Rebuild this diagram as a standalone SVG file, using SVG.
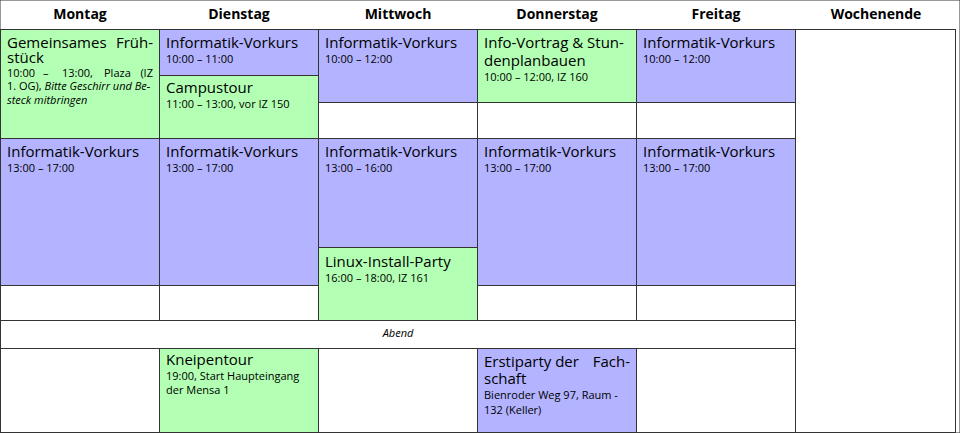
<svg xmlns="http://www.w3.org/2000/svg" width="960" height="433" viewBox="0 0 960 433">
<style>
text{font-family:"Open Sans","DejaVu Sans",sans-serif;fill:#000}
.h{font-size:14px;font-weight:bold;text-anchor:middle}
.t{font-size:15px}
.s{font-size:11px}
.i{font-style:italic}
rect{stroke:#333;stroke-width:1}
.g{fill:#b3ffb3}.b{fill:#b3b3ff}.w{fill:#fff}
</style>
<rect width="960" height="433" fill="#fff" stroke="none"/>
<g id="header">
<text class="h" x="80" y="19">Montag</text>
<text class="h" x="239" y="19">Dienstag</text>
<text class="h" x="398" y="19">Mittwoch</text>
<text class="h" x="557" y="19">Donnerstag</text>
<text class="h" x="716" y="19">Freitag</text>
<text class="h" x="876" y="19">Wochenende</text>
</g>
<g id="grid">
<rect class="w" x="0.5" y="29.5" width="955" height="403"/>
<rect class="w" x="318.5" y="102.5" width="159" height="36"/>
<rect class="w" x="477.5" y="102.5" width="159" height="36"/>
<rect class="w" x="636.5" y="102.5" width="159" height="36"/>
<rect class="w" x="0.5" y="285.5" width="159" height="35"/>
<rect class="w" x="159.5" y="285.5" width="159" height="35"/>
<rect class="w" x="477.5" y="285.5" width="159" height="35"/>
<rect class="w" x="636.5" y="285.5" width="159" height="35"/>
<rect class="w" x="0.5" y="320.5" width="795" height="28"/>
<rect class="w" x="0.5" y="348.5" width="159" height="84"/>
<rect class="w" x="318.5" y="348.5" width="159" height="84"/>
<rect class="w" x="636.5" y="348.5" width="159" height="84"/>
<rect class="w" x="795.5" y="29.5" width="160" height="403"/>
<text class="s i" x="398" y="337" text-anchor="middle">Abend</text>
</g>
<g id="mo1"><rect class="g" x="0.5" y="29.5" width="159" height="109"/>
<text class="t" x="7" y="48">Gemeinsames</text><text class="t" x="153" y="48" text-anchor="end">Früh-</text>
<text class="t" x="7" y="63">stück</text>
<text class="s" x="7" y="77">10:00</text><text class="s" x="43" y="77">–</text><text class="s" x="62" y="77">13:00,</text><text class="s" x="104" y="77">Plaza</text><text class="s" x="153" y="77" text-anchor="end">(IZ</text>
<text class="s" x="7" y="90">1. OG), <tspan class="i">Bitte Geschirr und Be-</tspan></text>
<text class="s i" x="7" y="104">steck mitbringen</text></g>
<g id="mo2"><rect class="b" x="0.5" y="138.5" width="159" height="147"/>
<text class="t" x="7" y="157">Informatik-Vorkurs</text><text class="s" x="7" y="172">13:00 – 17:00</text></g>
<g id="di1"><rect class="b" x="159.5" y="29.5" width="159" height="46"/>
<text class="t" x="166" y="48">Informatik-Vorkurs</text><text class="s" x="166" y="63">10:00 – 11:00</text></g>
<g id="di2"><rect class="g" x="159.5" y="75.5" width="159" height="63"/>
<text class="t" x="166" y="93">Campustour</text><text class="s" x="166" y="108">11:00 – 13:00, vor IZ 150</text></g>
<g id="di3"><rect class="b" x="159.5" y="138.5" width="159" height="147"/>
<text class="t" x="166" y="157">Informatik-Vorkurs</text><text class="s" x="166" y="172">13:00 – 17:00</text></g>
<g id="di4"><rect class="g" x="159.5" y="348.5" width="159" height="84"/>
<text class="t" x="166" y="365">Kneipentour</text><text class="s" x="166" y="380">19:00, Start Haupteingang</text><text class="s" x="166" y="394">der Mensa 1</text></g>
<g id="mi1"><rect class="b" x="318.5" y="29.5" width="159" height="73"/>
<text class="t" x="325" y="48">Informatik-Vorkurs</text><text class="s" x="325" y="63">10:00 – 12:00</text></g>
<g id="mi2"><rect class="b" x="318.5" y="138.5" width="159" height="109"/>
<text class="t" x="325" y="157">Informatik-Vorkurs</text><text class="s" x="325" y="172">13:00 – 16:00</text></g>
<g id="mi3"><rect class="g" x="318.5" y="247.5" width="159" height="73"/>
<text class="t" x="325" y="267">Linux-Install-Party</text><text class="s" x="325" y="282">16:00 – 18:00, IZ 161</text></g>
<g id="do1"><rect class="g" x="477.5" y="29.5" width="159" height="73"/>
<text class="t" x="484" y="48">Info-Vortrag &amp; Stun-</text><text class="t" x="484" y="66">denplanbauen</text><text class="s" x="484" y="81">10:00 – 12:00, IZ 160</text></g>
<g id="do2"><rect class="b" x="477.5" y="138.5" width="159" height="147"/>
<text class="t" x="484" y="157">Informatik-Vorkurs</text><text class="s" x="484" y="172">13:00 – 17:00</text></g>
<g id="do3"><rect class="b" x="477.5" y="348.5" width="159" height="84"/>
<text class="t" x="484" y="367">Erstiparty der</text><text class="t" x="630" y="367" text-anchor="end">Fach-</text><text class="t" x="484" y="384">schaft</text>
<text class="s" x="484" y="399">Bienroder Weg 97, Raum -</text><text class="s" x="484" y="414">132 (Keller)</text></g>
<g id="fr1"><rect class="b" x="636.5" y="29.5" width="159" height="73"/>
<text class="t" x="643" y="48">Informatik-Vorkurs</text><text class="s" x="643" y="63">10:00 – 12:00</text></g>
<g id="fr2"><rect class="b" x="636.5" y="138.5" width="159" height="147"/>
<text class="t" x="643" y="157">Informatik-Vorkurs</text><text class="s" x="643" y="172">13:00 – 17:00</text></g>
<g id="connectors"/>
</svg>
